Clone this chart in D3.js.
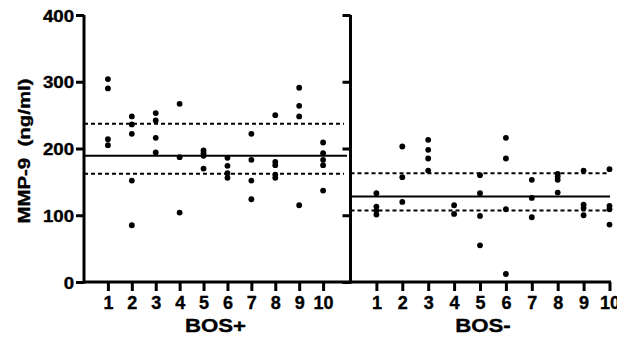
<!DOCTYPE html>
<html>
<head>
<meta charset="utf-8">
<script src="https://cdn.jsdelivr.net/npm/d3@7.9.0/dist/d3.min.js"></script>
<style>
  html, body { margin: 0; padding: 0; background: #fff; }
  svg { display: block; }
  text { font-family: 'Liberation Sans', Arial, sans-serif; font-weight: bold; fill: #000; stroke: #000; stroke-width: 0.35px; }
</style>
</head>
<body>
<svg id="chart" width="617" height="345"></svg>
<script>
// MMP-9 (ng/ml) per subject
const subjects = [1, 2, 3, 4, 5, 6, 7, 8, 9, 10];
const bosPos = [
  [304, 290, 214, 205],
  [248, 236, 222, 152, 85],
  [253, 242, 216, 194],
  [267, 187, 104],
  [197, 193, 189, 170],
  [186, 174, 163, 156],
  [222, 183, 152, 124],
  [250, 180, 175, 161, 156],
  [291, 264, 248, 115],
  [209, 193, 183, 175, 137]
];
const bosNeg = [
  [133, 113, 107, 101],
  [203, 157, 120],
  [213, 198, 185, 167],
  [115, 102],
  [160, 133, 99, 55],
  [216, 185, 109, 12],
  [153, 126, 97],
  [162, 158, 153, 134],
  [167, 116, 111, 100],
  [169, 114, 109, 86]
];
const groupNames = ['BOS+', 'BOS-'];
const meanLines = [189, 128];      // solid
const bandLines = [[237, 162], [163, 107]]; // dashed
const yTicks = [0, 100, 200, 300, 400];

const svg = d3.select('#chart');

let y = d3.scaleLinear().domain([0, 400]).range([282, 15]);
let xPos = d3.scaleLinear().domain([0, 11]).range([84, 347]);
let xNeg = d3.scaleLinear().domain([0, 10]).range([350.5, 609.5]);

const panels = [
  { x: xPos, data: bosPos, left: 84, right: 347, label: groupNames[0], cx: 215.5 },
  { x: xNeg, data: bosNeg, left: 350.5, right: 610, label: groupNames[1], cx: 483 }
];

// x axis baseline across both panels
svg.append('line')
  .attr('x1', 84).attr('x2', xNeg(10) + 1.5)
  .attr('y1', y(0)).attr('y2', y(0))
  .attr('stroke', '#000').attr('stroke-width', 3);

panels.forEach((p, pi) => {
  // vertical axis
  let yAxis = svg.append('g')
    .attr('transform', `translate(${p.left},0)`)
    .call(d3.axisLeft(y).tickValues(yTicks).tickSize(8).tickFormat(pi === 0 ? d3.format('d') : ''));
  yAxis.select('.domain').attr('d', `M0,${y(400)}V${y(0) + 1.5}`).attr('stroke-width', 3);
  yAxis.selectAll('.tick line').attr('stroke-width', 3);
  yAxis.selectAll('.tick text')
    .attr('x', -9).attr('dy', '0.36em')
    .style('font-size', '17px')
    .attr('transform', 'scale(1.1,1)');

  // x ticks
  let xAxis = svg.append('g')
    .attr('transform', `translate(0,${y(0)})`)
    .call(d3.axisBottom(p.x).tickValues(subjects).tickSize(9).tickFormat(d3.format('d')));
  xAxis.select('.domain').remove();
  xAxis.selectAll('.tick line').attr('stroke-width', 3);
  xAxis.selectAll('.tick text')
    .attr('y', 14).attr('dy', '0.71em')
    .style('font-size', '18px');

  // group label
  svg.append('text')
    .attr('x', p.cx).attr('y', 332)
    .attr('text-anchor', 'middle')
    .style('font-size', '19px')
    .attr('transform', `translate(${p.cx},0) scale(1.17,1) translate(${-p.cx},0)`)
    .text(p.label);

  // mean and band lines
  svg.append('line')
    .attr('x1', p.left).attr('x2', p.right)
    .attr('y1', y(meanLines[pi])).attr('y2', y(meanLines[pi]))
    .attr('stroke', '#000').attr('stroke-width', 2);
  bandLines[pi].forEach((v) => {
    svg.append('line')
      .attr('x1', p.left).attr('x2', p.right - 3)
      .attr('y1', y(v)).attr('y2', y(v))
      .attr('stroke', '#000').attr('stroke-width', 2)
      .attr('stroke-dasharray', '4,3');
  });

  // dots
  p.data.forEach((vals, i) => {
    svg.append('g').selectAll('circle')
      .data(vals)
      .join('circle')
      .attr('cx', p.x(subjects[i]))
      .attr('cy', (d) => y(d))
      .attr('r', 2.9)
      .attr('fill', '#000');
  });
});

// y axis title
svg.append('text')
  .attr('transform', 'translate(30,151) rotate(-90) scale(1.2,1)')
  .attr('text-anchor', 'middle')
  .style('font-size', '17px')
  .style('white-space', 'pre')
  .text('MMP-9  (ng/ml)');
</script>
</body>
</html>
